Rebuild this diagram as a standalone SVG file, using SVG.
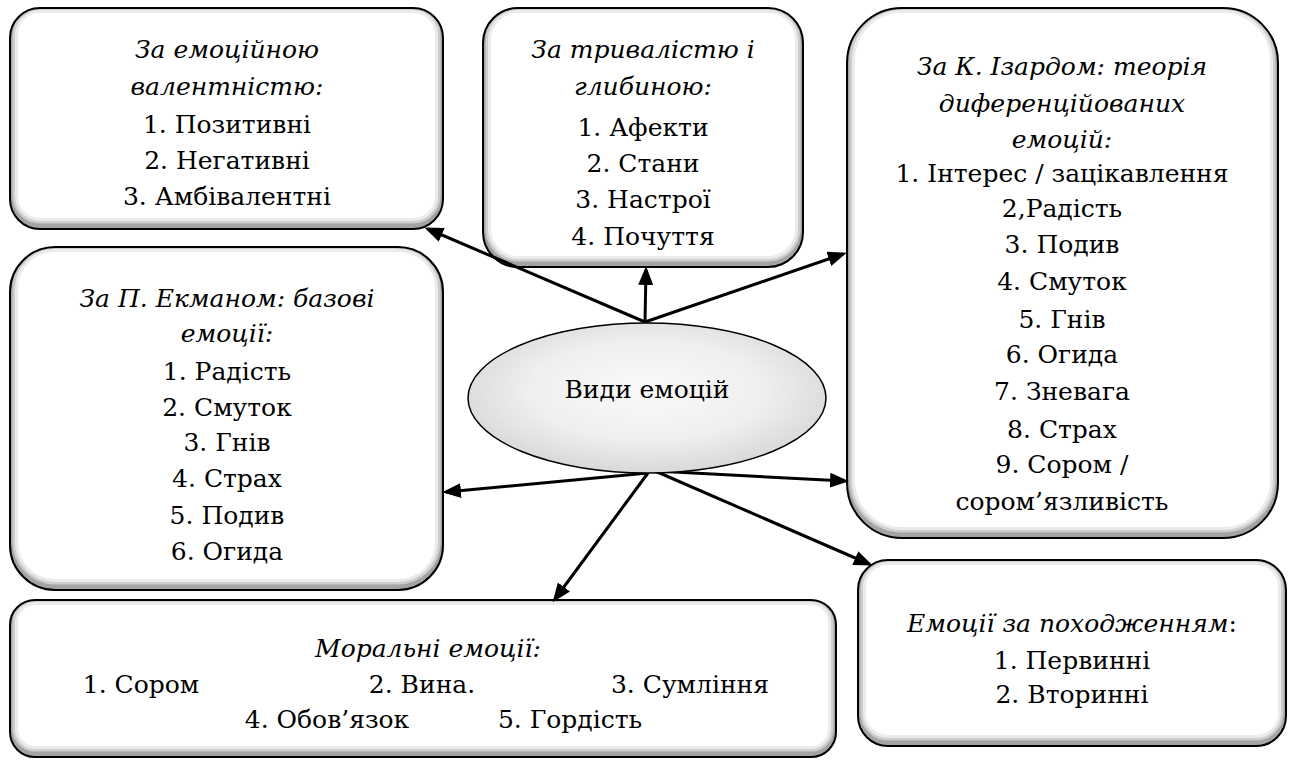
<svg xmlns="http://www.w3.org/2000/svg" xmlns:xlink="http://www.w3.org/1999/xlink" width="1296" height="762" viewBox="0 0 1296 762" font-family="'DejaVu Serif', 'Liberation Serif', serif" font-size="25" text-anchor="middle">
<defs>
<style>
.it{font-style:italic}
.shd{fill:none;stroke:#000}
</style>
<rect id="r1" x="10" y="8" width="433" height="221" rx="30"/>
<rect id="r2" x="483" y="8" width="320" height="259" rx="35"/>
<rect id="r3" x="847" y="8" width="431" height="530" rx="55"/>
<rect id="r4" x="10" y="247" width="433" height="343" rx="45"/>
<rect id="r5" x="10" y="600" width="826" height="157" rx="25"/>
<rect id="r6" x="858" y="560" width="428" height="186" rx="30"/>
<clipPath id="c1"><use xlink:href="#r1"/></clipPath>
<clipPath id="c2"><use xlink:href="#r2"/></clipPath>
<clipPath id="c3"><use xlink:href="#r3"/></clipPath>
<clipPath id="c4"><use xlink:href="#r4"/></clipPath>
<clipPath id="c5"><use xlink:href="#r5"/></clipPath>
<clipPath id="c6"><use xlink:href="#r6"/></clipPath>
<radialGradient id="eg" cx="50%" cy="45%" r="55%">
<stop offset="0" stop-color="#fafafa"/>
<stop offset="0.6" stop-color="#efefef"/>
<stop offset="1" stop-color="#d8d8d8"/>
</radialGradient>
<marker id="ah" markerUnits="userSpaceOnUse" markerWidth="19" markerHeight="15" refX="15" refY="7.5" orient="auto">
<path d="M0,0 L19,7.5 L0,15 z" fill="#000"/>
</marker>
</defs>
<rect width="1296" height="762" fill="#fff"/>

<g id="valence">
<use xlink:href="#r1" fill="#fff"/>
<g clip-path="url(#c1)"><g transform="translate(0,-3)"><use xlink:href="#r1" class="shd" stroke-width="16" stroke-opacity="0.08"/><use xlink:href="#r1" class="shd" stroke-width="10" stroke-opacity="0.12"/><use xlink:href="#r1" class="shd" stroke-width="5" stroke-opacity="0.2"/></g></g>
<use xlink:href="#r1" fill="none" stroke="#000" stroke-width="2"/>
<text x="227" y="58" class="it">За емоційною</text>
<text x="227" y="95" class="it">валентністю:</text>
<text x="227" y="133">1. Позитивні</text>
<text x="227" y="169">2. Негативні</text>
<text x="227" y="205">3. Амбівалентні</text>
</g>

<g id="duration">
<use xlink:href="#r2" fill="#fff"/>
<g clip-path="url(#c2)"><g transform="translate(0,-3)"><use xlink:href="#r2" class="shd" stroke-width="16" stroke-opacity="0.08"/><use xlink:href="#r2" class="shd" stroke-width="10" stroke-opacity="0.12"/><use xlink:href="#r2" class="shd" stroke-width="5" stroke-opacity="0.2"/></g></g>
<use xlink:href="#r2" fill="none" stroke="#000" stroke-width="2"/>
<text x="643" y="58" class="it">За тривалістю і</text>
<text x="643" y="95" class="it">глибиною:</text>
<text x="643" y="136">1. Афекти</text>
<text x="643" y="172">2. Стани</text>
<text x="643" y="208">3. Настрої</text>
<text x="643" y="245">4. Почуття</text>
</g>

<g id="izard">
<use xlink:href="#r3" fill="#fff"/>
<g clip-path="url(#c3)"><g transform="translate(0,-3)"><use xlink:href="#r3" class="shd" stroke-width="16" stroke-opacity="0.08"/><use xlink:href="#r3" class="shd" stroke-width="10" stroke-opacity="0.12"/><use xlink:href="#r3" class="shd" stroke-width="5" stroke-opacity="0.2"/></g></g>
<use xlink:href="#r3" fill="none" stroke="#000" stroke-width="2"/>
<text x="1062" y="75" class="it">За К. Ізардом: теорія</text>
<text x="1062" y="112" class="it">диференційованих</text>
<text x="1062" y="148" class="it">емоцій:</text>
<text x="1062" y="182">1. Інтерес / зацікавлення</text>
<text x="1062" y="217">2,Радість</text>
<text x="1062" y="253">3. Подив</text>
<text x="1062" y="290">4. Смуток</text>
<text x="1062" y="328">5. Гнів</text>
<text x="1062" y="363">6. Огида</text>
<text x="1062" y="400">7. Зневага</text>
<text x="1062" y="438">8. Страх</text>
<text x="1062" y="473">9. Сором /</text>
<text x="1062" y="510">сором’язливість</text>
</g>

<g id="ekman">
<use xlink:href="#r4" fill="#fff"/>
<g clip-path="url(#c4)"><g transform="translate(0,-3)"><use xlink:href="#r4" class="shd" stroke-width="16" stroke-opacity="0.08"/><use xlink:href="#r4" class="shd" stroke-width="10" stroke-opacity="0.12"/><use xlink:href="#r4" class="shd" stroke-width="5" stroke-opacity="0.2"/></g></g>
<use xlink:href="#r4" fill="none" stroke="#000" stroke-width="2"/>
<text x="227" y="307" class="it">За П. Екманом: базові</text>
<text x="227" y="342" class="it">емоції:</text>
<text x="227" y="380">1. Радість</text>
<text x="227" y="416">2. Смуток</text>
<text x="227" y="451">3. Гнів</text>
<text x="227" y="487">4. Страх</text>
<text x="227" y="524">5. Подив</text>
<text x="227" y="560">6. Огида</text>
</g>

<g id="moral">
<use xlink:href="#r5" fill="#fff"/>
<g clip-path="url(#c5)"><g transform="translate(0,-3)"><use xlink:href="#r5" class="shd" stroke-width="16" stroke-opacity="0.08"/><use xlink:href="#r5" class="shd" stroke-width="10" stroke-opacity="0.12"/><use xlink:href="#r5" class="shd" stroke-width="5" stroke-opacity="0.2"/></g></g>
<use xlink:href="#r5" fill="none" stroke="#000" stroke-width="2"/>
<text x="428" y="657" class="it">Моральні емоції:</text>
<text x="141" y="693">1. Сором</text>
<text x="422" y="693">2. Вина.</text>
<text x="690" y="693">3. Сумління</text>
<text x="327" y="728">4. Обов’язок</text>
<text x="570" y="728">5. Гордість</text>
</g>

<g id="origin">
<use xlink:href="#r6" fill="#fff"/>
<g clip-path="url(#c6)"><g transform="translate(0,-3)"><use xlink:href="#r6" class="shd" stroke-width="16" stroke-opacity="0.08"/><use xlink:href="#r6" class="shd" stroke-width="10" stroke-opacity="0.12"/><use xlink:href="#r6" class="shd" stroke-width="5" stroke-opacity="0.2"/></g></g>
<use xlink:href="#r6" fill="none" stroke="#000" stroke-width="2"/>
<text x="1072" y="632"><tspan class="it">Емоції за походженням</tspan>:</text>
<text x="1072" y="669">1. Первинні</text>
<text x="1072" y="703">2. Вторинні</text>
</g>

<g id="connectors" stroke="#000" stroke-width="3">
<line x1="645" y1="322" x2="428" y2="229" marker-end="url(#ah)"/>
<line x1="645" y1="322" x2="646" y2="270" marker-end="url(#ah)"/>
<line x1="645" y1="322" x2="843" y2="254" marker-end="url(#ah)"/>
<line x1="648" y1="473" x2="446" y2="492" marker-end="url(#ah)"/>
<line x1="648" y1="473" x2="555" y2="599" marker-end="url(#ah)"/>
<line x1="655" y1="471" x2="845" y2="481" marker-end="url(#ah)"/>
<line x1="655" y1="471" x2="869" y2="564" marker-end="url(#ah)"/>
</g>

<g id="center">
<ellipse cx="647" cy="398" rx="179" ry="75" fill="url(#eg)" stroke="#000" stroke-width="1.5"/>
<text x="647" y="398">Види емоцій</text>
</g>
</svg>
